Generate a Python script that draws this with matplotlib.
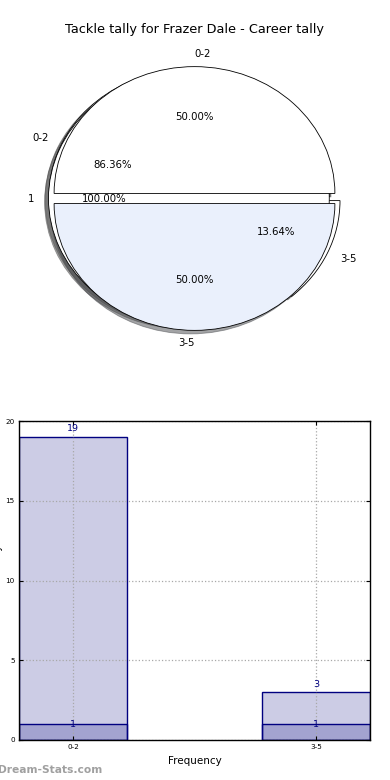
"""
Tackle tally chart for Frazer Dale: overlaid pies on top, frequency bars below.
"""

import matplotlib
matplotlib.use('Agg')
import matplotlib.pyplot as plt

# data
title = 'Tackle tally for Frazer Dale - Career tally'
categories = ['0-2', '3-5']
career_counts = [19, 3]
season_counts = [1, 1]
single_label = ['1']
single_count = [1]

navy = '#000080'

fig = plt.figure(figsize=(3.9, 7.8), dpi=100)

# pie panel (three pies drawn on the same axes, like the original)
ax1 = fig.add_axes([19 / 390, 1 - 357 / 780, 351 / 390, 317 / 780])
wp = dict(edgecolor='black', linewidth=0.6)
tp = dict(fontsize=7.3)

ax1.pie(career_counts, labels=categories, explode=[0.04, 0.04],
        colors=['white', 'white'], autopct='%.2f%%', shadow=True,
        wedgeprops=wp, textprops=tp)
ax1.pie(single_count, labels=single_label, explode=[0.04],
        colors=['white'], autopct='%.2f%%', shadow=True,
        wedgeprops=wp, textprops=tp)
_, half_labels, _ = ax1.pie(season_counts, labels=categories, explode=[0.04, 0.04],
                            colors=['white', '#eaf0fc'], autopct='%.2f%%', shadow=True,
                            wedgeprops=wp, textprops=tp)
# top label sits right of centre, bottom one left of it
half_labels[0].set_ha('left')
half_labels[1].set_ha('right')

ax1.set_aspect('auto')
ax1.set_xlim(-1.25, 1.25)
ax1.set_ylim(-1.25, 1.25)
ax1.axis('off')

fig.text(194.5 / 390, 1 - 30 / 780, title, ha='center', va='center', fontsize=9.3)

# bar panel
ax2 = fig.add_axes([19 / 390, 1 - 740 / 780, 351 / 390, 319 / 780])
x = list(range(len(categories)))
bar_w = 0.444
ax2.bar(x, career_counts, width=bar_w, color=navy, alpha=0.2, edgecolor='none')
ax2.bar(x, career_counts, width=bar_w, fill=False, edgecolor=navy, linewidth=1.0)
ax2.bar(x, season_counts, width=bar_w, color=navy, alpha=0.2, edgecolor='none')
ax2.bar(x, season_counts, width=bar_w, fill=False, edgecolor=navy, linewidth=1.0)

for xi, v in zip(x, career_counts):
    ax2.text(xi, v + 0.22, str(v), ha='center', va='bottom', color=navy, fontsize=6.8)
for xi, v in zip(x, season_counts):
    ax2.text(xi, v, str(v), ha='center', va='center', color=navy, fontsize=6.8)

ax2.set_xlim(-bar_w / 2, 1 + bar_w / 2)
ax2.set_ylim(0, 20)
ax2.set_yticks([0, 5, 10, 15, 20])
ax2.set_xticks(x)
ax2.set_xticklabels(categories)
ax2.tick_params(direction='in', top=True, right=True, length=3, width=0.8,
                labelsize=5.2, pad=3)
ax2.grid(True, linestyle=':', color='#a8a8a8', linewidth=0.9)
for sp in ax2.spines.values():
    sp.set_linewidth(1.0)
ax2.set_xlabel('Frequency', fontsize=7.5, labelpad=4)

fig.text(3.5 / 390, 1 - 581 / 780, 'Statistics tally', rotation=90,
         ha='right', va='center', fontsize=7.3)
fig.text(-2 / 390, 1 - 770 / 780, 'Dream-Stats.com', ha='left', va='center',
         color='#a0a0a0', fontsize=7.7, fontweight='bold')

fig.savefig('out.png', dpi=100)
